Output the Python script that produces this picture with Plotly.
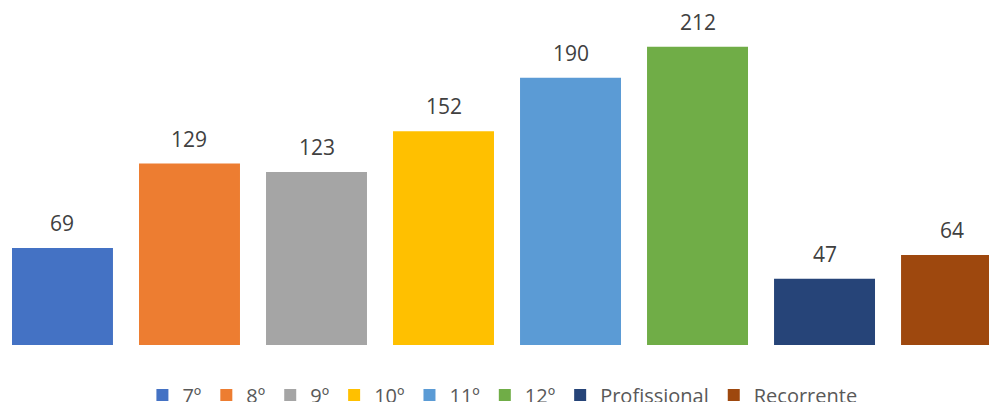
import plotly.graph_objects as go

categories = ["7º", "8º", "9º", "10º", "11º", "12º", "Profissional", "Recorrente"]
values = [69, 129, 123, 152, 190, 212, 47, 64]
colors = ["#4472C4", "#ED7D31", "#A5A5A5", "#FFC000", "#5B9BD5", "#70AD47", "#264478", "#9E480E"]

FONT = "Open Sans"

fig = go.Figure()
for cat, val, col in zip(categories, values, colors):
    fig.add_trace(go.Bar(
        x=[cat], y=[val], name=cat, marker=dict(color=col, line=dict(width=0)),
        width=0.795, hoverinfo="x+y",
    ))
    fig.add_annotation(
        x=cat, y=val, text=str(val), showarrow=False, yanchor="middle", yshift=25,
        font=dict(family=FONT, size=21, color="#404040"),
    )

fig.update_layout(
    width=989, height=402,
    margin=dict(l=0, r=0, t=0, b=57, autoexpand=False),
    paper_bgcolor="white", plot_bgcolor="white",
    barmode="overlay",
    showlegend=True,
    legend=dict(
        orientation="h", x=0.508, xanchor="center", y=-0.145, yanchor="middle",
        font=dict(family=FONT, size=20, color="#595959"),
        itemwidth=30, traceorder="normal", bgcolor="rgba(0,0,0,0)",
    ),
    xaxis=dict(
        type="category", categoryorder="array", categoryarray=categories,
        range=[-0.492, 7.295], showticklabels=False, showgrid=False,
        zeroline=False, showline=False, ticks="", fixedrange=True,
    ),
    yaxis=dict(
        range=[0, 245.2], showticklabels=False, showgrid=False,
        zeroline=False, showline=False, ticks="", fixedrange=True,
    ),
)

fig.write_html(
    "out.html",
    config={"displayModeBar": False},
    post_script="document.body.style.margin='0';document.body.style.overflow='hidden';",
)
